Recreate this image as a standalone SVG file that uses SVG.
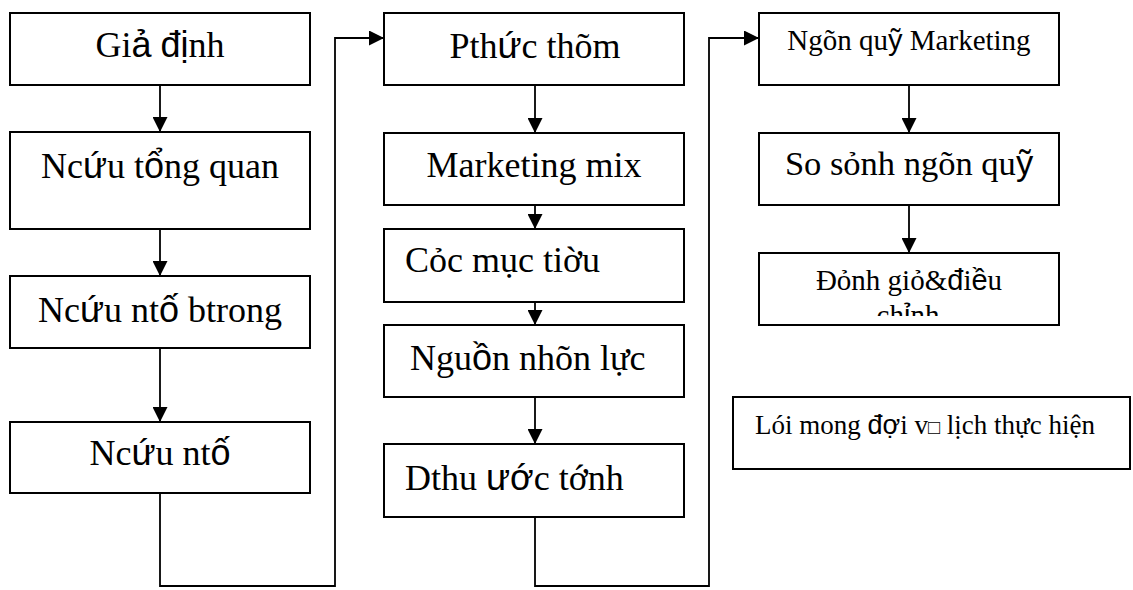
<svg xmlns="http://www.w3.org/2000/svg" width="1133" height="590" viewBox="0 0 1133 590">
<style>
.box{fill:#fff;stroke:#000;stroke-width:2}
.ln{fill:none;stroke:#000;stroke-width:1.8}
.t{font-family:"Liberation Serif","Times New Roman",serif;fill:#000;font-size:36px}
.m{text-anchor:middle}
.s{font-family:"Liberation Sans",Arial,sans-serif}
</style>
<defs>
<marker id="ah" markerUnits="userSpaceOnUse" markerWidth="15" markerHeight="15" refX="15" refY="7.5" orient="auto">
<path d="M0,0 L15,7.5 L0,15 Z" fill="#000"/>
</marker>
<clipPath id="clip12"><rect x="759" y="253" width="300" height="63"/></clipPath>
</defs>
<g id="connectors">
<path class="ln" d="M160,85 V132" marker-end="url(#ah)"/>
<path class="ln" d="M160,229 V276" marker-end="url(#ah)"/>
<path class="ln" d="M160,348 V422" marker-end="url(#ah)"/>
<path class="ln" d="M160,493 V586 H335 V38 H384" marker-end="url(#ah)"/>
<path class="ln" d="M535,85 V133" marker-end="url(#ah)"/>
<path class="ln" d="M535,205 V229" marker-end="url(#ah)"/>
<path class="ln" d="M535,302 V325" marker-end="url(#ah)"/>
<path class="ln" d="M535,397 V444" marker-end="url(#ah)"/>
<path class="ln" d="M535,517 V586 H709 V38 H759" marker-end="url(#ah)"/>
<path class="ln" d="M909,85 V133" marker-end="url(#ah)"/>
<path class="ln" d="M909,205 V253" marker-end="url(#ah)"/>
</g>
<g id="n1"><rect class="box" x="10" y="13" width="300" height="72"/><text class="t m" x="160" y="57">Gi<tspan class="s">ả</tspan> <tspan class="s">đị</tspan>nh</text></g>
<g id="n2"><rect class="box" x="10" y="132" width="300" height="97"/><text class="t m" x="160" y="178">Nc<tspan class="s">ứ</tspan>u t<tspan class="s">ổ</tspan>ng quan</text></g>
<g id="n3"><rect class="box" x="10" y="276" width="300" height="72"/><text class="t m" x="160" y="322">Nc<tspan class="s">ứ</tspan>u nt<tspan class="s">ố</tspan> btrong</text></g>
<g id="n4"><rect class="box" x="10" y="422" width="300" height="71"/><text class="t m" x="160" y="465">Nc<tspan class="s">ứ</tspan>u nt<tspan class="s">ố</tspan></text></g>
<g id="n5"><rect class="box" x="384" y="13" width="300" height="72"/><text class="t m" x="535" y="58">Pth<tspan class="s">ứ</tspan>c thõm</text></g>
<g id="n6"><rect class="box" x="384" y="133" width="300" height="72"/><text class="t m" x="534" y="177">Marketing mix</text></g>
<g id="n7"><rect class="box" x="384" y="229" width="300" height="73"/><text class="t" x="405" y="272">Cỏc mục tiờu</text></g>
<g id="n8"><rect class="box" x="384" y="325" width="300" height="72"/><text class="t" x="410" y="370">Ngu<tspan class="s">ồ</tspan>n nhõn lực</text></g>
<g id="n9"><rect class="box" x="384" y="444" width="300" height="73"/><text class="t" x="405" y="490">Dthu <tspan class="s">ướ</tspan>c tớnh</text></g>
<g id="n10"><rect class="box" x="759" y="13" width="300" height="72"/><text class="t m" x="909" y="50" style="font-size:29px">Ngõn qu<tspan class="s">ỹ</tspan> Marketing</text></g>
<g id="n11"><rect class="box" x="759" y="133" width="300" height="72"/><text class="t m" x="909" y="175" style="font-size:34.5px">So sỏnh ngõn qu<tspan class="s">ỹ</tspan></text></g>
<g id="n12"><rect class="box" x="759" y="253" width="300" height="72"/><g clip-path="url(#clip12)"><text class="t m" x="909" y="290" style="font-size:29px">Đỏnh giỏ&amp;<tspan class="s">đ</tspan>i<tspan class="s">ề</tspan>u</text><text class="t m" x="908" y="325" style="font-size:29px">ch<tspan class="s">ỉ</tspan>nh</text></g></g>
<g id="n13"><rect class="box" x="733" y="397" width="397" height="72"/><text class="t" x="755" y="434" style="font-size:27px">Lói mong <tspan class="s">đợ</tspan>i v<tspan class="s" style="font-size:20px">□</tspan> lịch thực hiện</text></g>
</svg>
